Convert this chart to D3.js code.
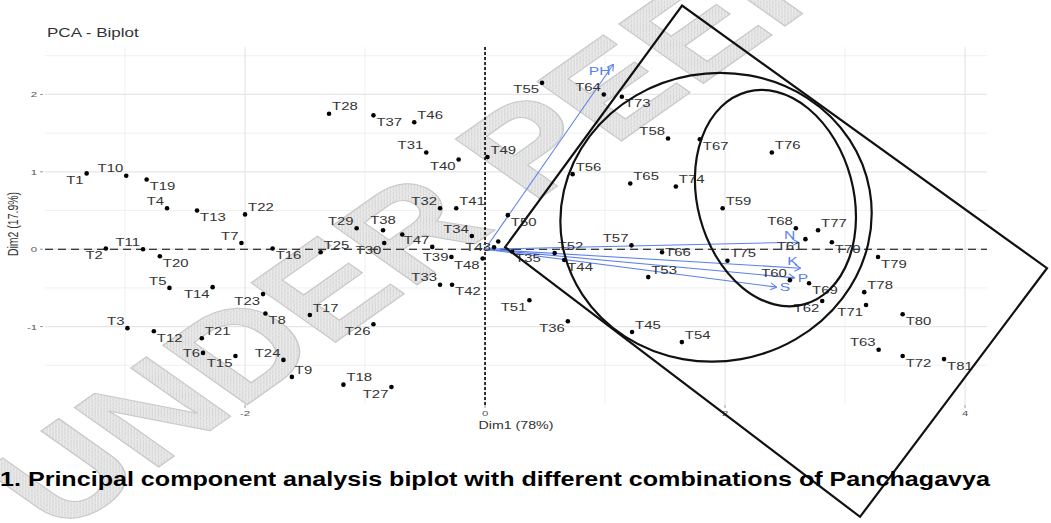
<!DOCTYPE html>
<html lang="en">
<head>
<meta charset="UTF-8">
<title>PCA - Biplot</title>
<script src="https://cdn.jsdelivr.net/npm/d3@7.9.0/dist/d3.min.js"></script>
<style>
  html, body { margin: 0; padding: 0; background: #fff; }
  svg { display: block; font-family: "Liberation Sans", Arial, sans-serif; }
</style>
</head>
<body>
<svg id="chart" width="1051" height="523"></svg>
<script>
// --- data (individuals) ---
const names = ["T1","T10","T19","T4","T13","T22","T7","T11","T2","T20",
  "T5","T14","T23","T3","T12","T21","T6","T15","T24","T8",
  "T17","T26","T9","T18","T27","T33","T42","T39","T48","T28",
  "T37","T46","T31","T40","T32","T41","T34","T43","T29","T38",
  "","T47","T30","T25","T16","T55","T64","T73","T58","T67",
  "T49","T56","T65","T74","T59","T50","","T57","T66","T52",
  "T44","T35","T51","T36","T45","T54","T53","T76","T68","T77",
  "T61","T70","T75","T79","T60","T69","T62","T78","T71","T80",
  "T63","T72","T81"];
const dim1 = [-3.32,-2.99,-2.82,-2.65,-2.40,-2.00,-2.03,-2.85,-3.16,-2.71,
  -2.63,-2.27,-1.85,-2.98,-2.76,-2.36,-2.35,-2.08,-1.68,-1.83,
  -1.46,-0.93,-1.61,-1.18,-0.78,-0.375,-0.275,-0.28,-0.02,-1.30,
  -0.93,-0.59,-0.49,-0.22,-0.375,-0.24,-0.11,0.075,-1.07,-0.85,
  -0.69,-0.44,-0.84,-1.37,-1.77,0.475,0.99,1.14,1.525,1.79,
  0.02,0.73,1.21,1.59,1.98,0.19,0.11,1.22,1.475,0.58,
  0.66,0.225,0.37,0.69,1.225,1.64,1.36,2.39,2.59,2.775,
  2.67,2.89,2.02,3.275,2.54,2.70,2.81,3.16,3.175,3.48,
  3.28,3.48,3.825];
const dim2 = [0.98,0.95,0.90,0.53,0.50,0.45,0.08,0.00,0.01,-0.09,
  -0.50,-0.49,-0.58,-1.02,-1.06,-1.15,-1.34,-1.38,-1.43,-0.83,
  -0.85,-0.97,-1.65,-1.75,-1.78,-0.46,-0.46,-0.10,-0.12,1.75,
  1.73,1.64,1.25,1.16,0.53,0.53,0.17,0.025,0.27,0.245,
  0.19,0.03,0.08,-0.04,0.01,2.15,2.00,1.97,1.43,1.42,
  1.19,0.97,0.85,0.81,0.53,0.44,0.10,0.05,-0.04,-0.05,
  -0.14,-0.03,-0.66,-0.93,-1.07,-1.20,-0.36,1.25,0.27,0.245,
  0.13,0.09,-0.15,-0.10,-0.40,-0.44,-0.67,-0.555,-0.72,-0.84,
  -1.30,-1.38,-1.42];
// side of the point where each label sits
const labelSide = ["sw","nw","se","nw","se","ne","nw","nw","sw","se",
  "nw","sw","sw","nw","se","ne","w","sw","nw","se",
  "ne","sw","ne","ne","sw","nw","se","w","sw","ne",
  "se","ne","nw","sw","nw","ne","nw","w","nw","n",
  "","nw","sw","ne","se","sw","nw","se","nw","se",
  "ne","ne","ne","ne","ne","se","","nw","e","ne",
  "se","se","sw","sw","ne","ne","ne","ne","nw","ne",
  "sw","se","ne","se","nw","se","sw","ne","sw","se",
  "nw","se","se"];

// --- data (variables) ---
const varNames = ["PH","N","K","P","S"];
const varDim1 = [1.07,2.61,2.63,2.58,2.43];
const varDim2 = [2.39,0.09,-0.245,-0.37,-0.49];
const varSide = ["sw","nw","nw","e","e"];

const xTicks = [-2,0,2,4];
const yTicks = [-1,0,1,2];
const xMinor = [-3,-1,1,3];
const yMinor = [-1.5,-0.5,0.5,1.5,2.5];
const titleText = "PCA - Biplot";
const xTitle = "Dim1 (78%)";
const yTitle = "Dim2 (17.9%)";
const captionText = "1. Principal component analysis biplot with different combinations of Panchagavya";
const watermarkText = "UNDER PEER REVIEW";

// hand-drawn annotation, corners in data units
const boxCorners = [[0.167,0.026],[1.642,3.148],[4.683,-0.245],[3.125,-3.458]];
const ellipseCenters = [[1.925,0.413],[2.42,0.66]];

// --- layout ---
const svg = d3.select("#chart");
const SX = 1.42; // the figure is stretched horizontally
const panel = {left: 45, right: 987, top: 47, bottom: 405};
const x = d3.scaleLinear().domain([-3.667, 4.183]).range([panel.left, panel.right]);
const y = d3.scaleLinear().domain([2.613, -2.013]).range([panel.top, panel.bottom]);

svg.append("rect").attr("width", 1051).attr("height", 523).attr("fill", "#fff");

// watermark pattern
const defs = svg.append("defs");
const pat = defs.append("pattern").attr("id", "hatch")
  .attr("patternUnits", "userSpaceOnUse").attr("width", 3).attr("height", 3);
pat.append("rect").attr("width", 3).attr("height", 3).attr("fill", "#ececec");
pat.append("path").attr("d", "M0,3 L3,0").attr("stroke", "#d6d6d6").attr("stroke-width", 1);

// grid
const grid = svg.append("g");
grid.selectAll(".vmin").data(xMinor).join("line")
  .attr("x1", d => x(d)).attr("x2", d => x(d)).attr("y1", panel.top).attr("y2", panel.bottom)
  .attr("stroke", "#f0f0f0").attr("stroke-width", 1);
grid.selectAll(".hmin").data(yMinor).join("line")
  .attr("y1", d => y(d)).attr("y2", d => y(d)).attr("x1", panel.left).attr("x2", panel.right)
  .attr("stroke", "#f0f0f0").attr("stroke-width", 1);
grid.selectAll(".vmaj").data(xTicks).join("line")
  .attr("x1", d => x(d)).attr("x2", d => x(d)).attr("y1", panel.top).attr("y2", panel.bottom)
  .attr("stroke", "#e6e6e6").attr("stroke-width", 1.2);
grid.selectAll(".hmaj").data(yTicks).join("line")
  .attr("y1", d => y(d)).attr("y2", d => y(d)).attr("x1", panel.left).attr("x2", panel.right)
  .attr("stroke", "#e6e6e6").attr("stroke-width", 1.2);

// watermark
svg.append("text")
  .attr("transform", "translate(62,535) scale(" + SX + ",1) rotate(-45)")
  .attr("font-size", 122).attr("font-weight", "bold")
  .attr("fill", "url(#hatch)").attr("stroke", "#c8c8c8").attr("stroke-width", 1)
  .text(watermarkText);

// zero lines
svg.append("line").attr("x1", panel.left).attr("x2", panel.right)
  .attr("y1", y(0)).attr("y2", y(0))
  .attr("stroke", "#000").attr("stroke-width", 1.1).attr("stroke-dasharray", "8,5");
svg.append("line").attr("x1", x(0)).attr("x2", x(0))
  .attr("y1", panel.top).attr("y2", panel.bottom)
  .attr("stroke", "#000").attr("stroke-width", 1.6).attr("stroke-dasharray", "3,2");

// axes ticks + labels
const axis = svg.append("g").attr("fill", "#555").attr("font-size", 8);
xTicks.forEach(t => {
  axis.append("line").attr("x1", x(t)).attr("x2", x(t)).attr("y1", panel.bottom).attr("y2", panel.bottom + 3)
    .attr("stroke", "#999");
  axis.append("text").attr("transform", `translate(${x(t)},${panel.bottom + 11}) scale(${SX},1)`)
    .attr("text-anchor", "middle").text(t);
});
yTicks.forEach(t => {
  axis.append("line").attr("x1", panel.left - 5).attr("x2", panel.left - 2).attr("y1", y(t)).attr("y2", y(t))
    .attr("stroke", "#999");
  axis.append("text").attr("transform", `translate(${panel.left - 8},${y(t) + 3}) scale(${SX},1)`)
    .attr("text-anchor", "end").text(t);
});

svg.append("text").attr("transform", `translate(${(panel.left + panel.right) / 2},429) scale(${SX},1)`)
  .attr("text-anchor", "middle").attr("font-size", 10).attr("fill", "#333").text(xTitle);
svg.append("text").attr("transform", `translate(18,224) scale(${SX},1) rotate(-90)`)
  .attr("text-anchor", "middle").attr("font-size", 10.5).attr("fill", "#333").text(yTitle);
svg.append("text").attr("transform", `translate(${panel.left + 2},37) scale(${SX},1)`)
  .attr("font-size", 12).attr("fill", "#333").text(titleText);

// label helper
const sides = {n:[0,-1], s:[0,1], e:[1,0], w:[-1,0], ne:[1,-1], nw:[-1,-1], se:[1,1], sw:[-1,1]};
function placeLabel(g, px, py, txt, side, size, color) {
  const t = g.append("text").attr("font-size", size).attr("fill", color)
    .attr("text-anchor", "middle").attr("dominant-baseline", "central").text(txt);
  const w = t.node().getComputedTextLength() * SX;
  const [dx, dy] = sides[side];
  const lx = px + dx * (w / 2 + 3);
  const ly = py + dy * (dx === 0 ? 10 : 7);
  t.attr("transform", `translate(${lx},${ly}) scale(${SX},1)`);
}

// variable arrows
const arrows = svg.append("g");
const blue = "#5b80ec";
varNames.forEach((v, i) => {
  const x0 = x(0), y0 = y(0), x1 = x(varDim1[i]), y1 = y(varDim2[i]);
  const a = Math.atan2(y1 - y0, x1 - x0);
  arrows.append("line").attr("x1", x0).attr("y1", y0).attr("x2", x1).attr("y2", y1)
    .attr("stroke", blue).attr("stroke-width", 1.1);
  [Math.PI / 6, -Math.PI / 6].forEach(o => {
    arrows.append("line").attr("x1", x1).attr("y1", y1)
      .attr("x2", x1 - 7 * Math.cos(a + o)).attr("y2", y1 - 7 * Math.sin(a + o))
      .attr("stroke", blue).attr("stroke-width", 1.1);
  });
  placeLabel(arrows, x1, y1, v, varSide[i], 11, blue);
});

// individuals
const pts = svg.append("g");
pts.selectAll("circle").data(names).join("circle")
  .attr("cx", (d, i) => x(dim1[i])).attr("cy", (d, i) => y(dim2[i]))
  .attr("r", 2.3).attr("fill", "#000");
names.forEach((n, i) => {
  if (!n) return;
  placeLabel(pts, x(dim1[i]), y(dim2[i]), n, labelSide[i], 10.5, "#333");
});

// hand-drawn overlay
const over = svg.append("g").attr("fill", "none").attr("stroke", "#111").attr("stroke-width", 2.2);
over.append("path").attr("d", d3.line().x(d => x(d[0])).y(d => y(d[1]))
  .curve(d3.curveLinearClosed)(boxCorners));
over.append("ellipse").attr("cx", x(ellipseCenters[0][0])).attr("cy", y(ellipseCenters[0][1]))
  .attr("rx", 156).attr("ry", 144)
  .attr("transform", `rotate(-10,${x(ellipseCenters[0][0])},${y(ellipseCenters[0][1])})`);
over.append("ellipse").attr("cx", x(ellipseCenters[1][0])).attr("cy", y(ellipseCenters[1][1]))
  .attr("rx", 110).attr("ry", 78)
  .attr("transform", `rotate(75,${x(ellipseCenters[1][0])},${y(ellipseCenters[1][1])})`);

// caption
svg.append("text").attr("x", 0).attr("y", 486)
  .attr("font-size", 21).attr("font-weight", "bold").attr("fill", "#000")
  .attr("textLength", 990).attr("lengthAdjust", "spacingAndGlyphs")
  .text(captionText);
</script>
</body>
</html>
